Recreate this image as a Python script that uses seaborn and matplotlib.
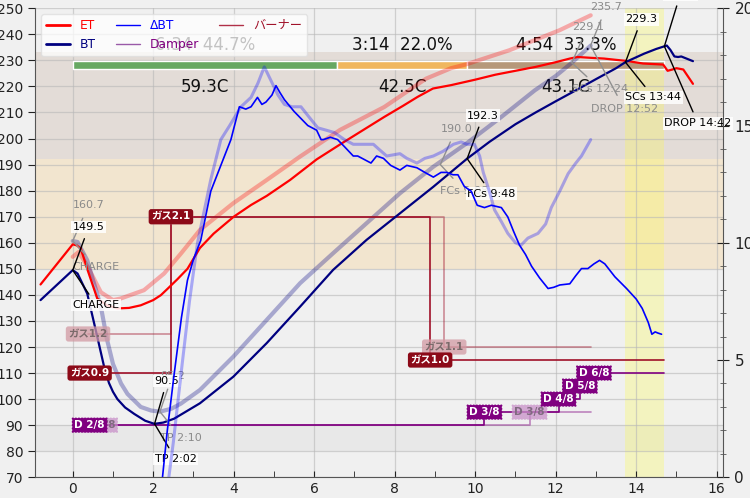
import matplotlib
matplotlib.use('Agg')
import matplotlib.pyplot as plt
from matplotlib.lines import Line2D
import seaborn as sns

# ---- current roast (time in minutes) ----
et_time = [-0.8, 0.0, 0.1, 0.2, 0.37, 0.61, 0.85, 1.11, 1.4, 1.69, 2.0, 2.19, 2.36, 2.6, 2.85,
           3.16, 3.5, 4.0, 4.43, 4.82, 5.4, 6.06, 6.72, 7.22, 7.74, 8.2, 8.57, 8.95, 9.4, 10.0,
           10.5, 11.0, 11.5, 12.0, 12.35, 12.55, 12.85, 13.2, 13.5, 13.76, 14.17, 14.67, 14.78,
           14.9, 15.0, 15.17, 15.41]
et_temp = [144.0, 159.4, 159.0, 157.8, 149.5, 138.6, 136.0, 134.8, 135.0, 136.0, 138.0, 139.9,
           142.4, 146.0, 150.0, 158.0, 163.5, 170.0, 174.5, 178.0, 184.1, 192.0, 198.5, 203.3,
           208.3, 212.5, 216.0, 219.2, 220.5, 222.6, 224.5, 226.0, 227.5, 229.3, 230.7, 231.3,
           231.0, 230.7, 230.2, 229.8, 228.8, 228.4, 226.0, 226.5, 227.0, 226.5, 221.0]

bt_time = [-0.8, 0.0, 0.12, 0.36, 0.61, 0.78, 0.9, 1.0, 1.11, 1.3, 1.53, 1.8, 2.03, 2.25, 2.52,
           3.16, 3.99, 4.82, 5.65, 6.47, 7.3, 8.13, 8.96, 9.8, 10.36, 11.0, 11.5, 12.0, 12.5,
           13.0, 13.5, 13.73, 14.2, 14.5, 14.7, 14.76, 14.85, 14.95, 15.04, 15.12, 15.2, 15.41]
bt_temp = [138.0, 149.5, 148.2, 140.5, 123.9, 112.4, 106.2, 102.8, 100.0, 96.8, 94.3, 91.7,
           90.5, 91.0, 92.5, 98.4, 108.6, 121.5, 135.5, 149.6, 161.1, 171.3, 181.5, 192.3,
           198.8, 205.5, 210.0, 214.3, 218.5, 222.8, 227.0, 229.3, 232.6, 234.4, 235.4, 235.7,
           234.0, 231.5, 231.3, 231.5, 231.0, 229.7]

dbt_time = [2.2, 2.35, 2.52, 2.7, 2.85, 3.0, 3.18, 3.43, 3.6, 3.93, 4.14, 4.3, 4.43, 4.59, 4.7,
            4.8, 4.95, 5.05, 5.15, 5.26, 5.5, 5.84, 6.06, 6.17, 6.23, 6.4, 6.58, 6.75, 6.97, 7.08,
            7.3, 7.41, 7.55, 7.72, 7.9, 8.13, 8.3, 8.55, 8.75, 8.96, 9.15, 9.29, 9.45, 9.57, 9.73,
            9.9, 10.05, 10.23, 10.4, 10.65, 10.81, 10.95, 11.1, 11.25, 11.4, 11.6, 11.81, 11.95,
            12.1, 12.35, 12.5, 12.64, 12.8, 12.95, 13.09, 13.22, 13.47, 13.76, 14.0, 14.15, 14.3,
            14.39, 14.47, 14.54, 14.63]
dbt_val = [-0.5, 2.0, 4.4, 6.8, 8.4, 9.3, 10.1, 12.2, 12.95, 14.4, 15.8, 15.7, 15.8, 16.2, 15.9,
           16.0, 16.3, 16.7, 16.4, 16.1, 15.6, 15.0, 14.8, 14.4, 14.4, 14.5, 14.4, 14.1, 13.7, 13.7,
           13.5, 13.4, 13.7, 13.6, 13.3, 13.1, 13.3, 13.2, 13.0, 12.8, 13.0, 13.0, 12.9, 12.9, 12.4,
           12.2, 11.6, 11.5, 11.6, 11.5, 11.1, 10.5, 9.9, 9.5, 9.0, 8.5, 8.05, 8.1, 8.2, 8.25,
           8.6, 8.9, 8.9, 9.1, 9.25, 9.1, 8.55, 8.05, 7.6, 7.2, 6.6, 6.1, 6.2, 6.15, 6.1]

# ---- background profile ----
bg_et_time = [0.0, 0.15, 0.4, 0.7, 1.0, 1.19, 1.77, 2.27, 2.69, 3.16, 3.99, 4.82, 5.65, 6.64,
              7.74, 8.78, 9.4, 9.78, 10.85, 12.1, 12.87]
bg_et_temp = [154.6, 156.5, 150.0, 141.0, 138.0, 138.6, 141.8, 148.2, 155.9, 164.9, 175.2,
              184.1, 193.1, 203.3, 212.1, 223.0, 227.0, 228.5, 233.9, 241.6, 247.3]

bg_bt_time = [0.0, 0.12, 0.36, 0.7, 0.85, 1.0, 1.2, 1.36, 1.69, 1.95, 2.17, 2.45, 2.69, 3.16,
              3.99, 4.82, 5.65, 6.47, 7.3, 8.13, 8.96, 9.79, 10.65, 11.48, 12.0, 12.4, 12.87]
bg_bt_temp = [160.7, 160.3, 153.3, 135.4, 123.0, 113.5, 106.0, 102.0, 97.0, 95.6, 95.2, 96.3,
              98.3, 103.5, 116.3, 130.4, 144.5, 156.0, 167.5, 179.0, 189.2, 198.2, 208.3,
              218.5, 224.0, 229.1, 235.7]

bg_dbt_time = [2.35, 2.5, 2.69, 2.9, 3.1, 3.43, 3.68, 3.9, 4.18, 4.43, 4.6, 4.76, 4.93, 5.1, 5.26,
               5.45, 5.67, 5.9, 6.09, 6.3, 6.5, 6.75, 6.97, 7.2, 7.47, 7.6, 7.8, 8.13, 8.3, 8.55,
               8.75, 8.96, 9.2, 9.46, 9.65, 9.79, 9.98, 10.11, 10.2, 10.35, 10.48, 10.65, 10.81,
               11.0, 11.14, 11.31, 11.56, 11.75, 11.89, 12.1, 12.31, 12.5, 12.64, 12.87]
bg_dbt_val = [-0.5, 1.5, 4.4, 7.5, 10.0, 12.7, 14.4, 15.0, 15.8, 16.2, 16.8, 17.5, 16.9, 16.3,
              15.9, 15.8, 15.8, 15.3, 14.9, 14.8, 14.7, 14.4, 14.2, 14.2, 14.2, 14.0, 13.7, 13.8,
              13.6, 13.4, 13.6, 13.7, 13.9, 14.2, 14.3, 14.2, 14.2, 13.7, 13.0, 12.2, 11.4, 10.9,
              10.4, 10.0, 9.9, 10.2, 10.4, 10.8, 11.5, 12.2, 12.95, 13.4, 13.7, 14.4]

# ---- roast events (seconds, BT) ----
ev_names = ['CHARGE', 'TP', 'FCs', 'SCs', 'DROP']
ev_sec = [0, 122, 588, 824, 882]
ev_bt = [149.5, 90.5, 192.3, 229.3, 235.4]
dry_sec = 394
dry_bt = 149.8

bg_ev_names = ['CHARGE', 'TP', 'FCs', 'SCs', 'DROP']
bg_ev_sec = [0, 130, 548, 744, 772]
bg_ev_bt = [160.7, 95.2, 190.0, 229.1, 235.7]

# ---- control events ----
burner_min = [0.42, 2.44, 8.88]
burner_val = [0.9, 2.1, 1.0]
damper_min = [0.42, 10.23, 12.07, 12.6, 12.95]
damper_val = [2, 3, 4, 5, 6]
bg_burner_min = [0.38, 2.44, 9.23]
bg_burner_val = [1.2, 2.1, 1.1]
bg_damper_min = [0.68, 11.35]
bg_damper_val = [2, 3]

sns.set_style('ticks')
plt.rcParams['font.family'] = ['DejaVu Sans', 'Noto Sans CJK JP']
plt.rcParams['axes.unicode_minus'] = False

BG = '#f0f0f0'
fig = plt.figure(figsize=(7.5, 4.98), dpi=100, facecolor=BG)
ax = fig.add_axes([0.0467, 0.0416, 0.9177, 0.9418])
ax.set_facecolor(BG)
ax2 = ax.twinx()
ax2.patch.set_visible(False)

ax.set_xlim(-0.937, 16.164)
ax.set_ylim(70, 250)
ax2.set_ylim(0, 20)

# background bands
ax.axhspan(150, 192, color='#f2e5cf', lw=0, zorder=0.2)
ax.axhspan(192, 233.2, color='#e3dcd7', lw=0, zorder=0.2)
ax.axhspan(80, 90, color='#e8e8e8', lw=0, zorder=0.2)
ax.axvspan(ev_sec[3] / 60, ev_sec[4] / 60, color='#ffff30', alpha=0.25, lw=0, zorder=0.3)

ax.set_axisbelow(True)
ax.grid(True, which='major', color='#b8b8b8', alpha=0.6, lw=0.9)

# phases bar + texts
ph_start = [0, dry_sec, ev_sec[2]]
ph_end = [dry_sec, ev_sec[2], ev_sec[4]]
ph_t0 = [ev_bt[1], dry_bt, ev_bt[2]]
ph_t1 = [dry_bt, ev_bt[2], ev_bt[4]]
ph_colors = ['#67a862', '#f0b75f', '#b6987a']
total = ev_sec[4] - ev_sec[0]
for s, e, t0, t1, c in zip(ph_start, ph_end, ph_t0, ph_t1, ph_colors):
    ax.broken_barh([(s / 60, (e - s) / 60)], (226.7, 3.1), facecolors=c, zorder=1)
    d = e - s
    mid = (s + e) / 120
    ax.text(mid, 235.8, f"{d // 60}:{d % 60:02d}  {100 * d / total:.1f}%", ha='center',
            va='center', fontsize=12, color='#111111', zorder=1.5)
    ax.text(mid, 219.8, f"{t1 - t0:.1f}C", ha='center', va='center', fontsize=12,
            color='#111111', zorder=1.5)

# background profile curves
sns.lineplot(x=bg_et_time, y=bg_et_temp, ax=ax, color='red', alpha=0.3, lw=3, legend=False, zorder=2)
sns.lineplot(x=bg_bt_time, y=bg_bt_temp, ax=ax, color='navy', alpha=0.3, lw=3, legend=False, zorder=2)

# control event step lines
def step_events(times, vals, end, to_y, color, alpha, lw):
    xs = list(times) + [end]
    ys = [to_y(v) for v in vals]
    ys = ys + [ys[-1]]
    sns.lineplot(x=xs, y=ys, ax=ax, color=color, alpha=alpha, lw=lw, drawstyle='steps-post',
                 legend=False, estimator=None, zorder=2.5)

def burner_y(v):
    return 65 + 50 * v

def damper_y(n):
    return 80 + 5 * n

bg_end = bg_ev_sec[4] / 60
fg_end = ev_sec[4] / 60
step_events(bg_burner_min, bg_burner_val, bg_end, burner_y, '#a01028', 0.45, 1.2)
step_events(bg_damper_min, bg_damper_val, bg_end, damper_y, '#800080', 0.45, 1.2)
step_events(burner_min, burner_val, fg_end, burner_y, '#a01028', 1.0, 1.2)
step_events(damper_min, damper_val, fg_end, damper_y, '#800080', 1.0, 1.2)

def event_labels(times, vals, to_y, fmt, fc, tc, style, alpha, z):
    for t, v in zip(times, vals):
        ax.text(t, to_y(v), fmt(v), ha='center', va='center', fontsize=7.5, fontweight='bold',
                color=tc, zorder=z,
                bbox=dict(boxstyle=style, fc=fc, ec='none', alpha=alpha))

event_labels(bg_burner_min, bg_burner_val, burner_y, lambda v: f"ガス{v}", '#d29aa3', '#7a6a6a',
             'round,pad=0.25', 0.75, 3.5)
event_labels(bg_damper_min, bg_damper_val, damper_y, lambda n: f"D {n}/8", '#c890c8', '#806a80',
             'roundtooth,pad=0.3', 0.75, 3.5)
event_labels(burner_min, burner_val, burner_y, lambda v: f"ガス{v}", '#8c0a18', 'white',
             'round,pad=0.25', 1.0, 3.6)
event_labels(damper_min, damper_val, damper_y, lambda n: f"D {n}/8", '#800080', 'white',
             'roundtooth,pad=0.3', 1.0, 3.6)

# current roast curves
sns.lineplot(x=et_time, y=et_temp, ax=ax, color='red', lw=1.6, legend=False, zorder=3)
sns.lineplot(x=bt_time, y=bt_temp, ax=ax, color='navy', lw=1.6, legend=False, zorder=3)

# ΔBT on right axis
sns.lineplot(x=bg_dbt_time, y=bg_dbt_val, ax=ax2, color='blue', alpha=0.3, lw=2.2, legend=False)
sns.lineplot(x=dbt_time, y=dbt_val, ax=ax2, color='blue', lw=1.2, legend=False)

# event annotations
def fmt_name(name, sec):
    if name == 'CHARGE':
        return name
    return f"{name} {sec // 60}:{sec % 60:02d}"

fg_off = {'DROP': (52, -77)}
for name, sec, temp in zip(ev_names, ev_sec, ev_bt):
    up, down = fg_off.get(name, (43, -35))
    for txt, dy in [(f"{temp:.1f}", up), (fmt_name(name, sec), down)]:
        ax.annotate(txt, xy=(sec / 60, temp), xytext=(0, dy), textcoords='offset pixels',
                    ha='left', va='center', fontsize=8, color='black', zorder=4,
                    annotation_clip=False,
                    bbox=dict(boxstyle='square,pad=0.12', fc='white', ec='none', alpha=0.85),
                    arrowprops=dict(arrowstyle='-', color='black', lw=1, shrinkA=4, shrinkB=0))

bg_off = {'DROP': (39, -63)}
for name, sec, temp in zip(bg_ev_names, bg_ev_sec, bg_ev_bt):
    up, down = bg_off.get(name, (36, -26))
    for txt, dy in [(f"{temp:.1f}", up), (fmt_name(name, sec), down)]:
        ax.annotate(txt, xy=(sec / 60, temp), xytext=(0, dy), textcoords='offset pixels',
                    ha='left', va='center', fontsize=8, color='#8a8a8a', zorder=3.8,
                    annotation_clip=False,
                    arrowprops=dict(arrowstyle='-', color='#909090', lw=1, shrinkA=4, shrinkB=0))

# axes styling
ax.set_xticks(range(0, 17, 2))
ax.set_xticks(range(0, 17, 1), minor=True)
ax.set_yticks(range(70, 251, 10))
ax.set_xlabel('')
ax.set_ylabel('')
ax2.set_ylabel('')
ax2.set_yticks(range(0, 21, 5))
ax2.set_yticks(range(0, 21, 1), minor=True)
ax.tick_params(axis='y', which='major', direction='out', length=5, labelsize=10, colors='#222222')
ax.tick_params(axis='x', which='both', direction='in', length=4, labelsize=10, colors='#222222')
ax.tick_params(axis='y', which='minor', left=False)
ax2.tick_params(axis='y', which='major', direction='inout', length=9, labelsize=11, colors='#222222')
ax2.tick_params(axis='y', which='minor', direction='inout', length=5, colors='#555555')
for a in (ax, ax2):
    a.spines['top'].set_visible(False)
    for sp in ('left', 'bottom', 'right'):
        a.spines[sp].set_color('#555555')
ax.spines['right'].set_visible(False)
ax2.spines['left'].set_visible(False)
ax2.spines['bottom'].set_visible(False)

# legend
handles = [Line2D([], [], color='red', lw=2),
           Line2D([], [], color='navy', lw=2),
           Line2D([], [], color='blue', lw=1),
           Line2D([], [], color='#9a5aa8', lw=1),
           Line2D([], [], color='#b03048', lw=1)]
labels = ['ET', 'BT', 'ΔBT', 'Damper', 'バーナー']
leg = ax2.legend(handles, labels, loc='upper left', ncol=3, fontsize=8.8, framealpha=0.75,
                 facecolor='white', edgecolor='#dddddd', columnspacing=1.6,
                 labelcolor=['red', 'navy', 'blue', 'purple', '#a01028'])

fig.savefig('out.png', dpi=100, facecolor=fig.get_facecolor())
